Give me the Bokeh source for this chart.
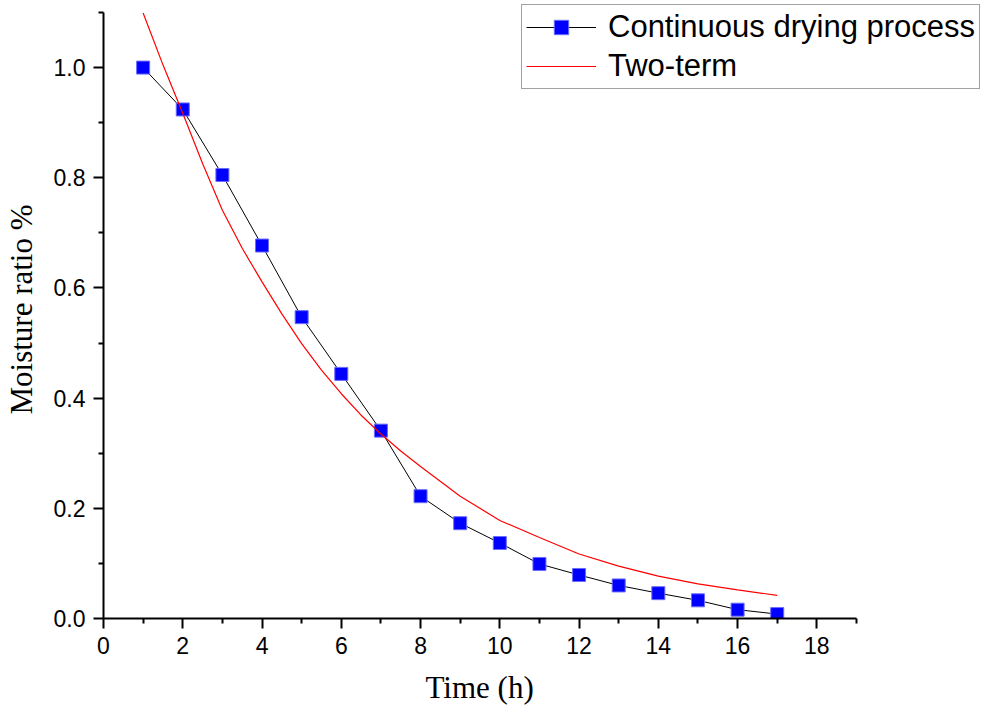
from bokeh.plotting import figure
from bokeh.models import FixedTicker, PrintfTickFormatter, Legend, LegendItem, Range1d, Title
from bokeh.embed import file_html
from bokeh.resources import INLINE

# Measured data (Continuous drying process)
time_h = [1, 2, 3, 4, 5, 6, 7, 8, 9, 10, 11, 12, 13, 14, 15, 16, 17]
moisture = [1.000, 0.924, 0.805, 0.677, 0.547, 0.444, 0.341, 0.222, 0.173,
            0.137, 0.099, 0.079, 0.060, 0.046, 0.033, 0.016, 0.008]

# Two-term model curve
fit_t = [1.0, 1.5, 2, 2.5, 3, 3.5, 4, 4.5, 5, 5.5, 6, 6.5, 7, 7.5, 8, 9, 10,
         11, 12, 13, 14, 15, 16, 17]
fit_mr = [1.099, 1.005, 0.917, 0.826, 0.741, 0.672, 0.611, 0.553, 0.499, 0.451,
          0.408, 0.369, 0.335, 0.304, 0.276, 0.222, 0.178, 0.147, 0.117, 0.095,
          0.077, 0.063, 0.052, 0.042]

x_ticks = [0, 2, 4, 6, 8, 10, 12, 14, 16, 18]
x_minor = [1, 3, 5, 7, 9, 11, 13, 15, 17, 19]
y_ticks = [0.0, 0.2, 0.4, 0.6, 0.8, 1.0]
y_minor = [0.1, 0.3, 0.5, 0.7, 0.9, 1.1]

# frame extends past the drawn axes so the legend can sit at the top right
p = figure(width=984, height=717, output_backend="svg", toolbar_location=None,
           x_range=Range1d(0, 22.23), y_range=Range1d(0, 1.1218),
           min_border_left=103, min_border_right=0, min_border_top=0,
           min_border_bottom=99)
p.outline_line_color = None
p.xgrid.visible = False
p.ygrid.visible = False
p.background_fill_color = "white"
p.border_fill_color = "white"

line_r = p.line(time_h, moisture, line_color="black", line_width=1)
sq_r = p.scatter(time_h, moisture, marker="square", size=13, fill_color="#0000FF",
                 line_color="#6b6bff", line_width=1)
fit_r = p.line(fit_t, fit_mr, line_color="#FF0000", line_width=1.2)

for ax, ticks, minor, bnds in ((p.xaxis[0], x_ticks, x_minor, (0, 19)),
                               (p.yaxis[0], y_ticks, y_minor, (0, 1.1))):
    ax.ticker = FixedTicker(ticks=ticks, minor_ticks=minor)
    ax.bounds = bnds
    ax.axis_line_width = 2
    ax.axis_line_color = "black"
    ax.major_tick_line_width = 2
    ax.minor_tick_line_width = 2
    ax.major_tick_in = 0
    ax.major_tick_out = 10
    ax.minor_tick_in = 0
    ax.minor_tick_out = 5
    ax.major_label_text_font = "Liberation Sans"
    ax.major_label_text_font_size = "23px"
    ax.major_label_text_color = "black"
    ax.axis_label_text_font = "Liberation Serif"
    ax.axis_label_text_font_size = "31px"
    ax.axis_label_text_font_style = "normal"
    ax.axis_label_text_color = "black"

p.yaxis[0].formatter = PrintfTickFormatter(format="%.1f")
p.yaxis[0].axis_label = "Moisture ratio %"
p.xaxis[0].major_label_standoff = 8
p.yaxis[0].major_label_standoff = 8
p.yaxis[0].axis_label_standoff = 12

xlabel = Title(text="Time (h)", align="left", offset=322,
               text_font="Liberation Serif", text_font_size="31px",
               text_font_style="normal", text_color="black", standoff=23)
p.add_layout(xlabel, "below")

legend = Legend(items=[
    LegendItem(label="Continuous drying process", renderers=[line_r, sq_r]),
    LegendItem(label="Two-term", renderers=[fit_r]),
], location=(418, 529))
legend.label_text_font = "Liberation Sans"
legend.label_text_font_size = "31px"
legend.label_text_color = "black"
legend.glyph_width = 70
legend.glyph_height = 36
legend.label_height = 36
legend.label_standoff = 12
legend.padding = 4
legend.spacing = 3
legend.margin = 0
legend.border_line_color = "#444444"
legend.border_line_width = 1
legend.background_fill_alpha = 1
p.add_layout(legend, "center")

open("out.html", "w").write(file_html(p, INLINE))
